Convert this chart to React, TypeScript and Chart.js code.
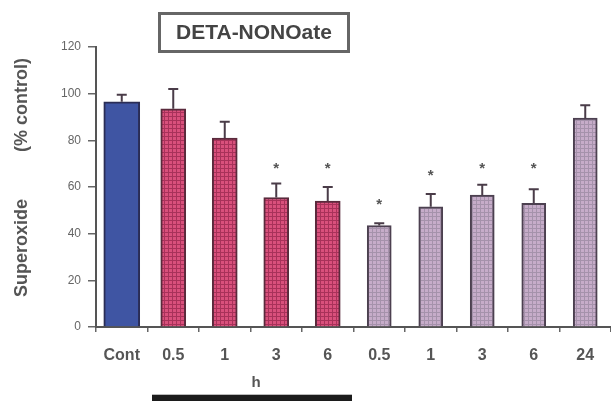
import React, { useEffect, useRef } from "react";
import { Chart, registerables } from "chart.js";

Chart.register(...registerables);

const categories = ["Cont", "0.5", "1", "3", "6", "0.5", "1", "3", "6", "24"];
const controlValues = [96.5, null, null, null, null, null, null, null, null, null];
const detaShortValues = [null, 93.5, 81, 55.5, 54, null, null, null, null, null];
const detaLongValues = [null, null, null, null, null, 43.5, 51.5, 56.5, 53, 89.5];
const errorValues = [3, 8.5, 7, 6, 6, 1, 5.5, 4.5, 6, 5.5];
const starValues = [null, null, null, 69.5, 69.5, 53.9, 66.4, 69.5, 69.5, null];
const yTicks = [0, 20, 40, 60, 80, 100, 120];
const titleText = "DETA-NONOate";
const yTitleA = "Superoxide";
const yTitleB = "(% control)";
const xTitle = "h";

function makePattern(base: string, line: string, size: number) {
  const c = document.createElement("canvas");
  c.width = size;
  c.height = size;
  const g = c.getContext("2d")!;
  g.fillStyle = base;
  g.fillRect(0, 0, size, size);
  g.fillStyle = line;
  g.fillRect(0, 0, size, 1);
  g.fillRect(0, 0, 1, size);
  const ctx = document.createElement("canvas").getContext("2d")!;
  return ctx.createPattern(c, "repeat")!;
}

const FONT = "'Liberation Sans', Arial, sans-serif";

const decorPlugin = {
  id: "decor",
  afterDatasetsDraw(chart: any) {
    const ctx = chart.ctx;
    const y = chart.scales.y;
    ctx.save();
    chart.data.datasets.forEach((ds: any, di: number) => {
      const meta = chart.getDatasetMeta(di);
      meta.data.forEach((el: any, i: number) => {
        const v = ds.data[i];
        if (v === null || v === undefined) return;
        const e = errorValues[i];
        const top = y.getPixelForValue(v + e);
        ctx.strokeStyle = "#4a3c48";
        ctx.lineWidth = 2;
        ctx.beginPath();
        ctx.moveTo(el.x, el.y);
        ctx.lineTo(el.x, top);
        ctx.moveTo(el.x - 5, top);
        ctx.lineTo(el.x + 5, top);
        ctx.stroke();
      });
    });
    const x = chart.scales.x;
    ctx.fillStyle = "#555";
    ctx.font = `bold 15px ${FONT}`;
    ctx.textAlign = "center";
    ctx.textBaseline = "alphabetic";
    starValues.forEach((s, i) => {
      if (s === null) return;
      ctx.fillText("*", x.getPixelForValue(i), y.getPixelForValue(s) + 8);
    });
    ctx.restore();
  },
  afterDraw(chart: any) {
    const ctx = chart.ctx;
    ctx.save();
    ctx.strokeStyle = "#666";
    ctx.lineWidth = 3;
    ctx.strokeRect(159.5, 13.5, 189, 38);
    ctx.fillStyle = "#444";
    ctx.font = `bold 21px ${FONT}`;
    ctx.textAlign = "center";
    ctx.textBaseline = "middle";
    ctx.fillText(titleText, 254, 33);
    ctx.save();
    ctx.translate(22, 0);
    ctx.rotate(-Math.PI / 2);
    ctx.fillStyle = "#555";
    ctx.font = `bold 18px ${FONT}`;
    ctx.textAlign = "center";
    ctx.textBaseline = "middle";
    ctx.fillText(yTitleA, -248, 0);
    ctx.fillText(yTitleB, -105, 0);
    ctx.restore();
    ctx.fillStyle = "#555";
    ctx.font = `bold 15px ${FONT}`;
    ctx.textAlign = "center";
    ctx.textBaseline = "middle";
    ctx.fillText(xTitle, 256, 383);
    ctx.fillStyle = "#bbb";
    ctx.fillRect(152, 394, 200, 1);
    ctx.fillStyle = "#1c1c1c";
    ctx.fillRect(152, 395, 200, 6);
    ctx.restore();
  },
};

export default function App() {
  const ref = useRef<HTMLCanvasElement | null>(null);
  useEffect(() => {
    if (!ref.current) return;
    const pink = makePattern("#d9507c", "#a8325a", 4);
    const purple = makePattern("#c6acc9", "#a592ab", 4);
    const chart = new Chart(ref.current, {
      type: "bar",
      data: {
        labels: categories,
        datasets: [
          {
            data: controlValues as any,
            backgroundColor: "#3f55a3",
            borderColor: "#2a2d55",
            borderWidth: 2,
            barThickness: 36,
            grouped: false,
          } as any,
          {
            data: detaShortValues as any,
            backgroundColor: pink,
            borderColor: "#5a2a3c",
            borderWidth: 2,
            barThickness: 25,
            grouped: false,
          } as any,
          {
            data: detaLongValues as any,
            backgroundColor: purple,
            borderColor: "#4c4050",
            borderWidth: 2,
            barThickness: 24,
            grouped: false,
          } as any,
        ],
      },
      options: {
        animation: false,
        responsive: false,
        maintainAspectRatio: false,
        layout: { padding: { top: 47, left: 0, right: 0, bottom: 0 } },
        plugins: { legend: { display: false }, tooltip: { enabled: false }, title: { display: false } },
        scales: {
          x: {
            afterFit: (s: any) => {
              s.height = 74;
            },
            grid: { display: true, drawOnChartArea: false, tickLength: 5, color: "#666", lineWidth: 1.5, offset: true },
            border: { display: true, color: "#555", width: 2 },
            ticks: { color: "#555", font: { family: FONT, size: 16, weight: "bold" }, padding: 14, maxRotation: 0 },
          },
          y: {
            min: 0,
            max: 120,
            afterFit: (s: any) => {
              s.width = 96;
            },
            afterBuildTicks: (s: any) => {
              s.ticks = yTicks.map((v) => ({ value: v }));
            },
            grid: { display: true, drawOnChartArea: false, tickLength: 8, color: "#666", lineWidth: 1.5 },
            border: { display: true, color: "#555", width: 2 },
            ticks: { color: "#666", font: { family: FONT, size: 12 }, padding: 7 },
          },
        },
      },
      plugins: [decorPlugin],
    });
    return () => chart.destroy();
  }, []);
  return (
    <div style={{ position: "fixed", left: 0, top: 0, width: 611, height: 401, background: "#fff" }}>
      <canvas ref={ref} width={611} height={401} style={{ width: 611, height: 401, display: "block" }} />
    </div>
  );
}
